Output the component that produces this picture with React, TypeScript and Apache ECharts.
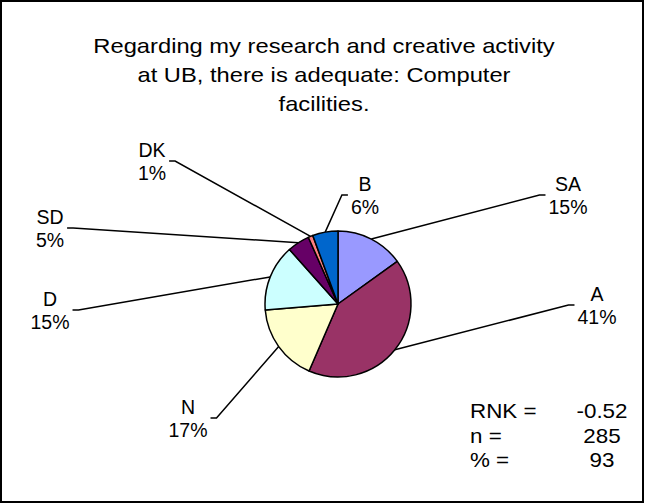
import React, { useEffect, useRef } from "react";
import * as echarts from "echarts";

const categories = ["SA", "A", "N", "D", "SD", "DK", "B"];
const counts = [43, 118, 49, 42, 14, 3, 16];
const sliceColors = ["#9999FF", "#993366", "#FFFFCC", "#CCFFFF", "#660066", "#FF8080", "#0066CC"];
const titleLines = [
  "Regarding my research and creative activity",
  "at UB, there is adequate: Computer",
  "facilities.",
];
const statLabels = ["RNK =", "n =", "% ="];
const statValues = ["-0.52", "285", "93"];

const FONT = '"Liberation Sans", Arial, Helvetica, sans-serif';

// label block centres (layout, px) and the side the leader line attaches to
const labelPlace: Record<string, { x: number; y: number; side: "left" | "right" }> = {
  SA: { x: 568, y: 195, side: "left" },
  A: { x: 597, y: 305, side: "left" },
  N: { x: 188, y: 418, side: "right" },
  D: { x: 50, y: 310, side: "right" },
  SD: { x: 50, y: 228, side: "right" },
  DK: { x: 152, y: 161, side: "right" },
  B: { x: 365, y: 195, side: "left" },
};

export default function App() {
  const ref = useRef<HTMLDivElement>(null);
  useEffect(() => {
    if (!ref.current) return;
    const chart = echarts.init(ref.current, undefined, { renderer: "svg" });
    const data = categories.map((c, i) => ({
      name: c,
      value: counts[i],
      itemStyle: { color: sliceColors[i] },
    }));
    const statGraphics: any[] = [];
    statLabels.forEach((s, i) => {
      statGraphics.push({
        type: "text",
        x: 470,
        y: 411 + i * 24.5,
        style: { text: s, font: `20px ${FONT}`, fill: "#000", textAlign: "left", textVerticalAlign: "middle" },
        scaleX: 1.12,
      });
      statGraphics.push({
        type: "text",
        x: 602,
        y: 411 + i * 24.5,
        style: { text: statValues[i], font: `20px ${FONT}`, fill: "#000", textAlign: "center", textVerticalAlign: "middle" },
        scaleX: 1.12,
      });
    });
    chart.setOption({
      animation: false,
      backgroundColor: "#fff",
      graphic: [
        {
          type: "rect",
          shape: { x: 1, y: 1, width: 642, height: 501 },
          style: { fill: "none", stroke: "#000", lineWidth: 2 },
          silent: true,
        },
        ...titleLines.map((t, i) => ({
          type: "text",
          x: 324,
          y: 46 + i * 29,
          scaleX: 1.13,
          style: { text: t, font: `21px ${FONT}`, fill: "#000", textAlign: "center", textVerticalAlign: "middle" },
        })),
        ...statGraphics,
      ],
      series: [
        {
          type: "pie",
          center: [338, 304],
          radius: 73,
          startAngle: 90,
          clockwise: true,
          avoidLabelOverlap: false,
          percentPrecision: 0,
          data,
          itemStyle: { borderColor: "#000", borderWidth: 1.5 },
          label: {
            show: true,
            position: "outside",
            formatter: "{b}\n{d}%",
            fontFamily: FONT,
            fontSize: 19.5,
            lineHeight: 23,
            color: "#000",
            align: "center",
          },
          labelLine: { show: true, length: 20, length2: 6, lineStyle: { color: "#000", width: 1.5 } },
          labelLayout: (params: any) => {
            const name = categories[params.dataIndex];
            const p = labelPlace[name];
            const w = params.labelRect.width;
            const dir = p.side === "left" ? -1 : 1;
            const edgeX = p.x + dir * (w / 2 + 3);
            const stubX = edgeX + dir * 6;
            const start = params.labelLinePoints && params.labelLinePoints[0];
            const res: any = { x: p.x, y: p.y, align: "center", verticalAlign: "middle" };
            if (start) {
              res.labelLinePoints = [
                [start[0], start[1]],
                [stubX, p.y],
                [edgeX, p.y],
              ];
            }
            return res;
          },
          emphasis: { disabled: true },
        },
      ],
    });
    return () => chart.dispose();
  }, []);
  return <div ref={ref} style={{ position: "fixed", left: 0, top: 0, width: 645, height: 504 }} />;
}
